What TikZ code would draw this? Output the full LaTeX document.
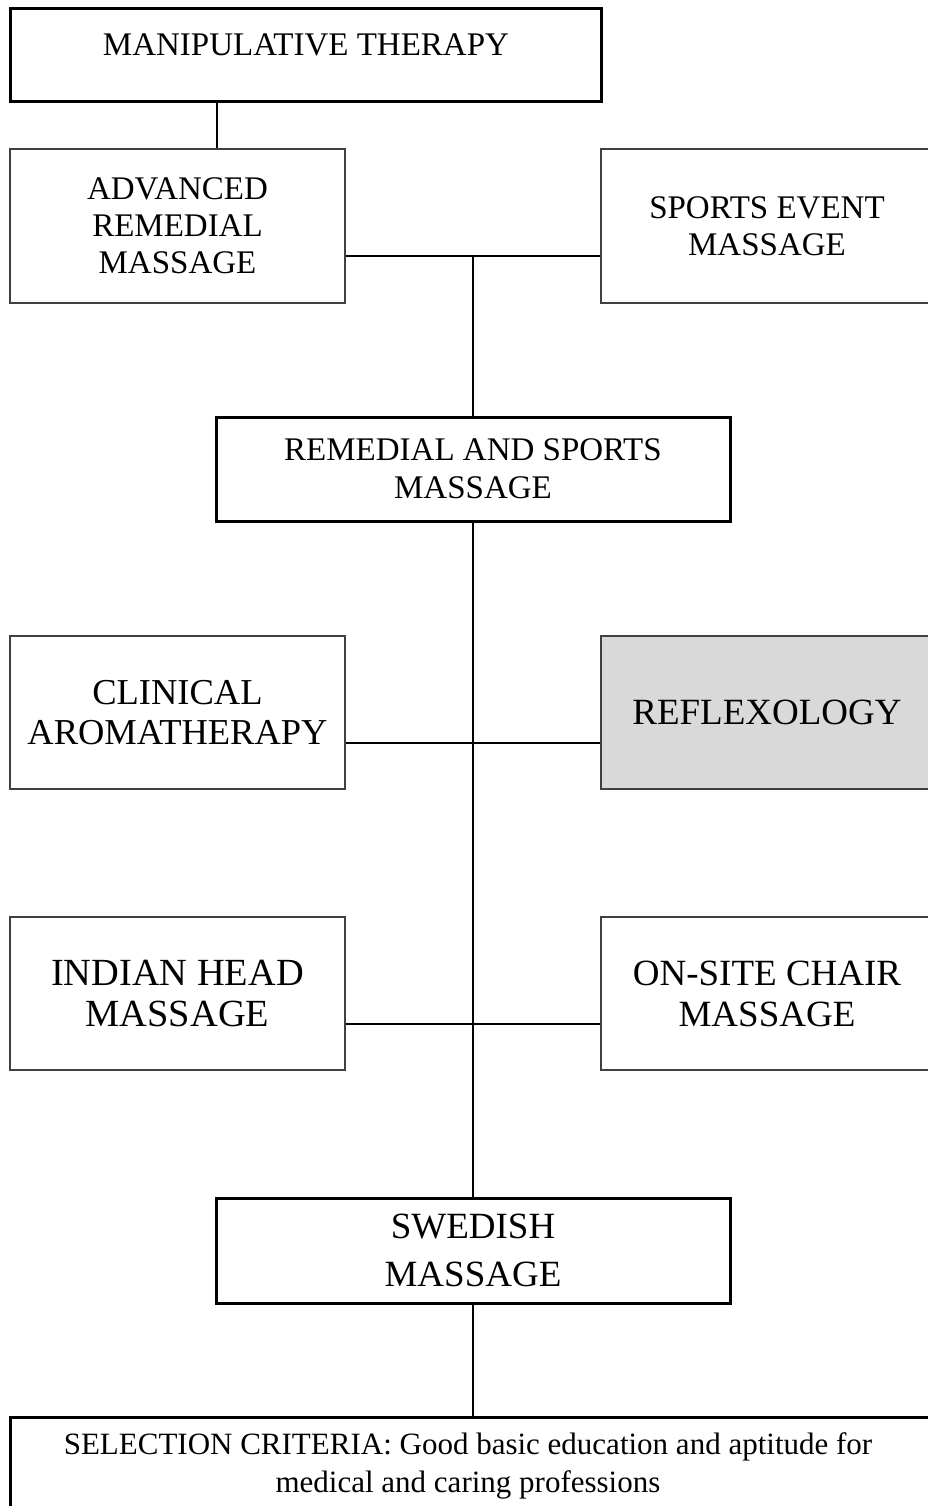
\documentclass[tikz,border=0pt]{standalone}
\usepackage{fontspec}
\setmainfont{Liberation Serif}
\begin{document}
\begin{tikzpicture}[x=1pt,y=-1pt,
  thinbox/.style={draw=black!75, line width=1.3pt, inner sep=0pt, align=center},
  thickbox/.style={draw=black, line width=3pt, inner sep=0pt, align=center},
  conn/.style={draw=black, line width=2.2pt},
  lbl/.style={inner sep=0pt, align=center}]
\useasboundingbox (0,0) rectangle (928,1506);
\clip (0,0) rectangle (928,1506);

% boxes
\node[thickbox, minimum width=591pt, minimum height=93pt] (top) at (305.5,55.5) {};
\node[lbl, font=\fontsize{33}{36}\selectfont] (toptext) at (306,44.5) {MANIPULATIVE THERAPY};

\node[thinbox, minimum width=335pt, minimum height=154pt, font=\fontsize{33}{37}\selectfont] (adv) at (177.5,226) {ADVANCED\\REMEDIAL\\MASSAGE};
\node[thinbox, minimum width=332pt, minimum height=154pt, font=\fontsize{33}{37}\selectfont] (sports) at (767,226) {SPORTS EVENT\\MASSAGE};

\node[thickbox, minimum width=514pt, minimum height=104pt, font=\fontsize{33}{38}\selectfont] (rem) at (473,469) {REMEDIAL AND SPORTS\\MASSAGE};

\node[thinbox, minimum width=335pt, minimum height=153pt, font=\fontsize{36.5}{40}\selectfont] (clin) at (177.5,712.5) {CLINICAL\\AROMATHERAPY};
\node[thinbox, fill=black!15, minimum width=332pt, minimum height=153pt, font=\fontsize{37}{41}\selectfont] (refl) at (767,712.5) {REFLEXOLOGY};

\node[thinbox, minimum width=335pt, minimum height=153pt, font=\fontsize{38.4}{41}\selectfont] (ind) at (177.5,993.5) {INDIAN HEAD\\MASSAGE};
\node[thinbox, minimum width=332pt, minimum height=153pt, font=\fontsize{37}{41}\selectfont] (ons) at (767,993.5) {ON-SITE CHAIR\\MASSAGE};

\node[thickbox, minimum width=514pt, minimum height=105pt, font=\fontsize{37}{48}\selectfont] (swe) at (473,1250.5) {SWEDISH\\MASSAGE};

\node[thickbox, minimum width=930pt, minimum height=113pt] (sel) at (475,1473.5) {};
\node[lbl, font=\fontsize{31}{38}\selectfont] (seltext) at (468,1466) {SELECTION CRITERIA: Good basic education and aptitude for\\medical and caring professions};

% connectors
\coordinate (t1) at (217,102);
\draw[conn] (t1) -- (t1 |- adv.north);
\coordinate (j1) at (473,256);
\draw[conn] (adv.east |- j1) -- (sports.west |- j1);
\draw[conn] (j1) -- (rem.north);
\draw[conn] (rem.south) -- (swe.north);
\coordinate (j2) at (473,743);
\draw[conn] (clin.east |- j2) -- (refl.west |- j2);
\coordinate (j3) at (473,1024);
\draw[conn] (ind.east |- j3) -- (ons.west |- j3);
\draw[conn] (swe.south) -- (swe.south |- sel.north);
\end{tikzpicture}
\end{document}
